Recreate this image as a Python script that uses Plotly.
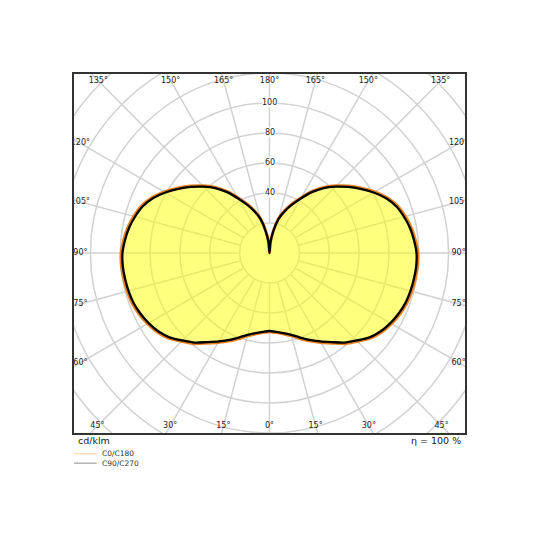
import numpy as np
import plotly.graph_objects as go

# Luminous intensity distribution (cd/klm), gamma measured from nadir
gamma = list(range(0, 185, 5))
c0_c180 = [52.5, 53.3, 54.8, 57.2, 60.8, 64.8, 68.9, 73.4, 78.9, 83.4, 88.4, 91.9,
           94.4, 96.4, 97.9, 98.7, 99.2, 99.6, 99.4, 98.1, 96.5, 94.2, 91.4, 87.1,
           81.5, 75.4, 69.4, 63.3, 57.3, 50.3, 42.7, 36.2, 30.3, 24.2, 15.2, 7.2, 0]
c90_c270 = [52, 52.8, 54.2, 56.5, 60, 64, 68, 72.5, 78, 82.5, 87.5, 91,
            93.5, 95.5, 97, 97.8, 98.3, 98.7, 98.5, 97.2, 95.6, 93.3, 90.5, 86.2,
            80.6, 74.5, 68.5, 62.5, 56.5, 49.5, 42, 35.5, 29.5, 23.5, 14.8, 7, 0]

radii = [20, 40, 60, 80, 100, 120, 140, 160, 180]
radial_labels = [40, 60, 80, 100]
label_angles = [0, 15, 30, 45, 60, 75, 90, 105, 120, 135, 150, 165, 180]
efficiency = "η = 100 %"

XMAX, YTOP, YBOT = 131, 119.3, -120


def closed_curve(vals):
    g = np.radians(gamma)
    r = np.array(vals)
    # left half (C180 / C270) then right half (C0 / C90)
    x = np.concatenate([-r[::-1] * np.sin(g[::-1]), r[1:] * np.sin(g[1:])])
    y = np.concatenate([-r[::-1] * np.cos(g[::-1]), -r[1:] * np.cos(g[1:])])
    return x, y


fig = go.Figure()

# grid: circles and spokes
for r in radii:
    fig.add_shape(type="circle", xref="x", yref="y", x0=-r, y0=-r, x1=r, y1=r,
                  line=dict(color="#d2d2d2", width=1.5), layer="below")
for a in range(0, 360, 15):
    t = np.radians(a)
    fig.add_shape(type="line", xref="x", yref="y",
                  x0=20 * np.sin(t), y0=-20 * np.cos(t),
                  x1=250 * np.sin(t), y1=-250 * np.cos(t),
                  line=dict(color="#d2d2d2", width=1.5), layer="below")

x0, y0 = closed_curve(c0_c180)
x9, y9 = closed_curve(c90_c270)
fig.add_trace(go.Scatter(x=x9, y=y9, mode="lines", fill="toself",
                         fillcolor="rgba(255,255,0,0.5)",
                         line=dict(width=0, shape="spline", smoothing=0.8),
                         hoverinfo="skip", showlegend=False))
fig.add_trace(go.Scatter(x=x0, y=y0, mode="lines", name="C0/C180",
                         line=dict(color="#e8821e", width=3, shape="spline", smoothing=0.8),
                         showlegend=False))
fig.add_trace(go.Scatter(x=x9, y=y9, mode="lines", name="C90/C270",
                         line=dict(color="#000000", width=2.3, shape="spline", smoothing=0.8),
                         showlegend=False))

# angle labels along the frame
lx, ly, lt = [], [], []
for a in label_angles:
    for side in ([1, -1] if a not in (0, 180) else [1]):
        t = np.radians(a)
        sx, sy = side * np.sin(t), -np.cos(t)
        if a == 90:
            px, py = side * 126.7, 0
        elif abs(sy) >= 0.7 - 1e-9:
            py = 114.7 if sy > 0 else -115.3
            px = sx / abs(sy) * abs(py)
        else:
            px = side * 126.7
            py = sy / abs(sx) * 126.7
        lx.append(px)
        ly.append(py)
        lt.append(f"{a}°")
fig.add_trace(go.Scatter(x=lx, y=ly, mode="text", text=lt, cliponaxis=True,
                         textfont=dict(size=8, color="#222", family="DejaVu Sans"),
                         hoverinfo="skip", showlegend=False))

for v in radial_labels:
    fig.add_annotation(x=0, y=v, text=str(v), showarrow=False, bgcolor="white",
                       borderpad=0, font=dict(size=8, color="#222", family="DejaVu Sans"))

fig.add_annotation(x=0.005, y=-0.022, xref="paper", yref="paper", text="cd/klm",
                   showarrow=False, xanchor="left", yanchor="middle",
                   font=dict(size=9.5, color="#222", family="DejaVu Sans"))
fig.add_annotation(x=0.995, y=-0.022, xref="paper", yref="paper", text=efficiency,
                   showarrow=False, xanchor="right", yanchor="middle",
                   font=dict(size=9.5, color="#222", family="DejaVu Sans"))

# manual legend
for i, (name, col) in enumerate([("C0/C180", "#f7cf95"), ("C90/C270", "#8c8c8c")]):
    yy = -0.058 - i * 0.026
    fig.add_shape(type="line", xref="paper", yref="paper", x0=0.0, x1=0.058,
                  y0=yy, y1=yy, line=dict(color=col, width=1))
    fig.add_annotation(x=0.066, y=yy, xref="paper", yref="paper", text=name,
                       showarrow=False, xanchor="left", yanchor="middle",
                       font=dict(size=7.5, color="#333", family="DejaVu Sans"))

fig.update_xaxes(range=[-XMAX, XMAX], showgrid=False, zeroline=False,
                 showticklabels=False, ticks="", showline=True, mirror=True,
                 linecolor="#333", linewidth=2)
fig.update_yaxes(range=[YBOT, YTOP], showgrid=False, zeroline=False,
                 showticklabels=False, ticks="", showline=True, mirror=True,
                 linecolor="#333", linewidth=2)
# page body adds ~7px offset, so margins are shifted up/left
fig.update_layout(width=540, height=540, margin=dict(l=66, r=83, t=66, b=115),
                  plot_bgcolor="white", paper_bgcolor="white")

fig.write_html("out.html")
